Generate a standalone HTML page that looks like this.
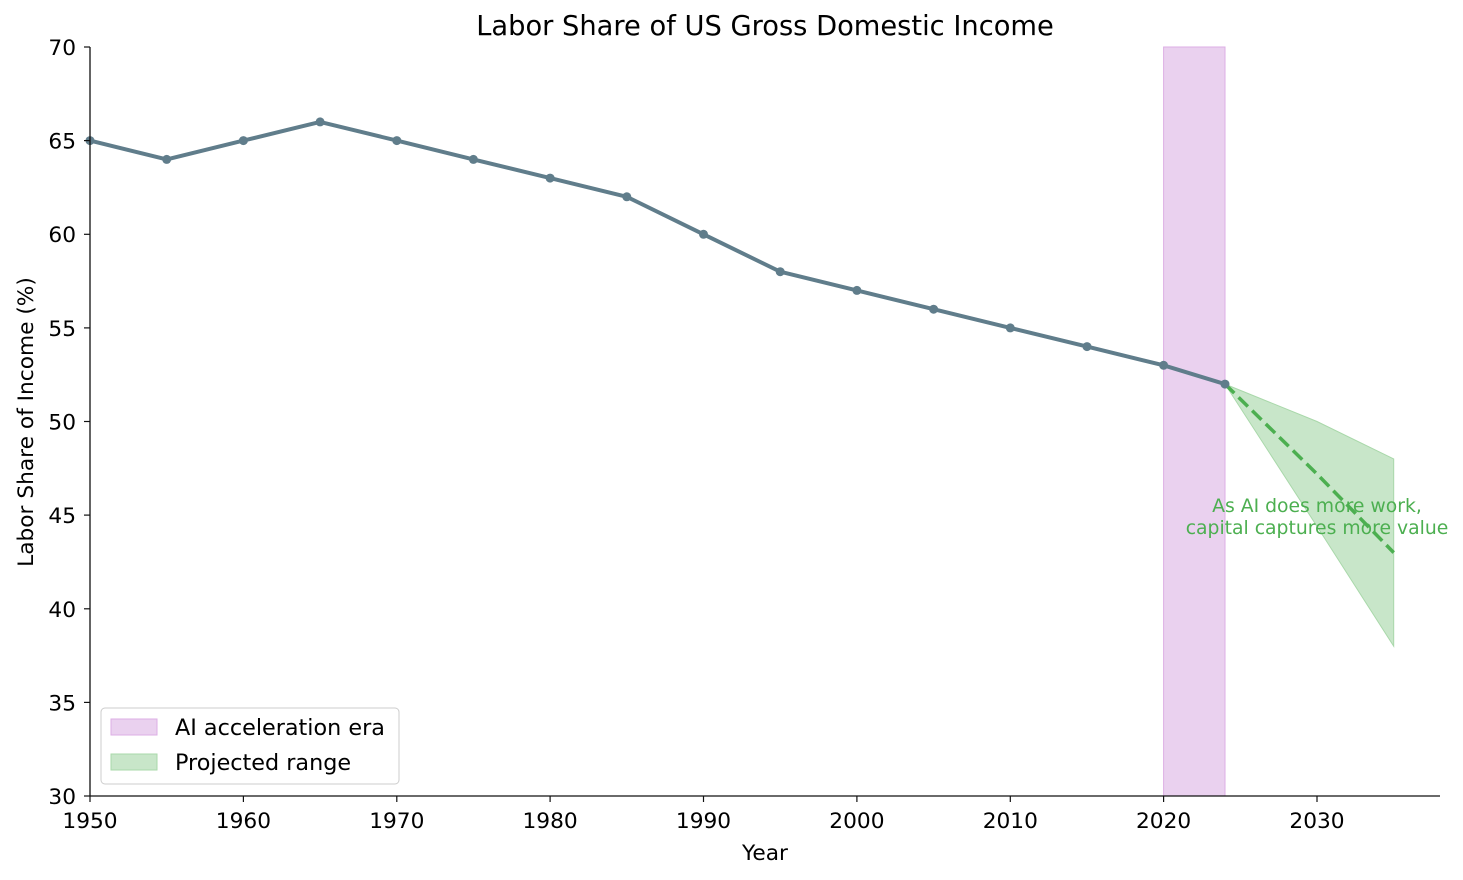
<!DOCTYPE html>
<html><head><meta charset="utf-8"><style>body{margin:0;background:#fff}svg{display:block;font-family:"DejaVu Sans","Liberation Sans",sans-serif}</style></head>
<body>
<svg width="1463" height="880" viewBox="0 0 1463 880">
<rect x="1163.6" y="47" width="61.4" height="749" fill="#ead1ef" stroke="#dcaee4" stroke-width="1"/>
<polygon points="1225,384.1 1317,421.5 1393.7,458.95 1393.7,646.2 1317,526.4" fill="#c8e6c9" stroke="#a9d8aa" stroke-width="1"/>
<polyline points="1225,384.1 1317,474 1393.7,552.6" fill="none" stroke="#4caf50" stroke-width="3.5" stroke-dasharray="13,6"/>
<polyline points="90,140.6 166.7,159.4 243.4,140.6 320.1,121.9 396.8,140.6 473.4,159.4 550.1,178.1 626.8,196.8 703.5,234.3 780.2,271.7 856.9,290.4 933.6,309.2 1010.3,327.9 1087,346.6 1163.6,365.3 1225,384.1" fill="none" stroke="#607d8b" stroke-width="4" stroke-linejoin="round"/>
<g fill="#607d8b">
<circle cx="90" cy="140.6" r="4.5"/><circle cx="166.7" cy="159.4" r="4.5"/><circle cx="243.4" cy="140.6" r="4.5"/><circle cx="320.1" cy="121.9" r="4.5"/><circle cx="396.8" cy="140.6" r="4.5"/><circle cx="473.4" cy="159.4" r="4.5"/><circle cx="550.1" cy="178.1" r="4.5"/><circle cx="626.8" cy="196.8" r="4.5"/><circle cx="703.5" cy="234.3" r="4.5"/><circle cx="780.2" cy="271.7" r="4.5"/><circle cx="856.9" cy="290.4" r="4.5"/><circle cx="933.6" cy="309.2" r="4.5"/><circle cx="1010.3" cy="327.9" r="4.5"/><circle cx="1087" cy="346.6" r="4.5"/><circle cx="1163.6" cy="365.3" r="4.5"/><circle cx="1225" cy="384.1" r="4.5"/>
</g>
<text x="1317" y="512" font-size="18.8" fill="#4caf50" text-anchor="middle">As AI does more work,</text>
<text x="1317" y="534" font-size="18.8" fill="#4caf50" text-anchor="middle">capital captures more value</text>
<g stroke="#111" stroke-width="1.3" fill="none">
<line x1="90" y1="47" x2="90" y2="796"/><line x1="90" y1="796" x2="1440" y2="796"/>
</g>
<g stroke="#111" stroke-width="1.2">
<line x1="84" y1="47" x2="90" y2="47"/><line x1="84" y1="140.6" x2="90" y2="140.6"/><line x1="84" y1="234.3" x2="90" y2="234.3"/><line x1="84" y1="327.9" x2="90" y2="327.9"/><line x1="84" y1="421.5" x2="90" y2="421.5"/><line x1="84" y1="515.1" x2="90" y2="515.1"/><line x1="84" y1="608.8" x2="90" y2="608.8"/><line x1="84" y1="702.4" x2="90" y2="702.4"/><line x1="84" y1="796" x2="90" y2="796"/>
<line x1="90" y1="796" x2="90" y2="802"/><line x1="243.4" y1="796" x2="243.4" y2="802"/><line x1="396.8" y1="796" x2="396.8" y2="802"/><line x1="550.1" y1="796" x2="550.1" y2="802"/><line x1="703.5" y1="796" x2="703.5" y2="802"/><line x1="856.9" y1="796" x2="856.9" y2="802"/><line x1="1010.3" y1="796" x2="1010.3" y2="802"/><line x1="1163.6" y1="796" x2="1163.6" y2="802"/><line x1="1317" y1="796" x2="1317" y2="802"/>
</g>
<g font-size="21.7" fill="#000" text-anchor="end">
<text x="76" y="55">70</text><text x="76" y="148.5">65</text><text x="76" y="242">60</text><text x="76" y="336">55</text><text x="76" y="429.5">50</text><text x="76" y="523">45</text><text x="76" y="617">40</text><text x="76" y="710.5">35</text><text x="76" y="804">30</text>
</g>
<g font-size="21.7" fill="#000" text-anchor="middle">
<text x="90" y="828">1950</text><text x="243.4" y="828">1960</text><text x="396.8" y="828">1970</text><text x="550.1" y="828">1980</text><text x="703.5" y="828">1990</text><text x="856.9" y="828">2000</text><text x="1010.3" y="828">2010</text><text x="1163.6" y="828">2020</text><text x="1317" y="828">2030</text>
<text x="765" y="860">Year</text>
<text x="765" y="35" font-size="27.3">Labor Share of US Gross Domestic Income</text>
<text transform="translate(33,422) rotate(-90)">Labor Share of Income (%)</text>
</g>
<rect x="101" y="708" width="298" height="76" rx="4" fill="#fff" fill-opacity="0.8" stroke="#ccc"/>
<rect x="111" y="719" width="46" height="16" fill="#ead1ef" stroke="#dcaee4"/>
<rect x="111" y="754" width="46" height="16" fill="#c8e6c9" stroke="#a9d8aa"/>
<text x="175" y="735" font-size="22.3">AI acceleration era</text>
<text x="175" y="770" font-size="22.3">Projected range</text>
</svg>
</body></html>
